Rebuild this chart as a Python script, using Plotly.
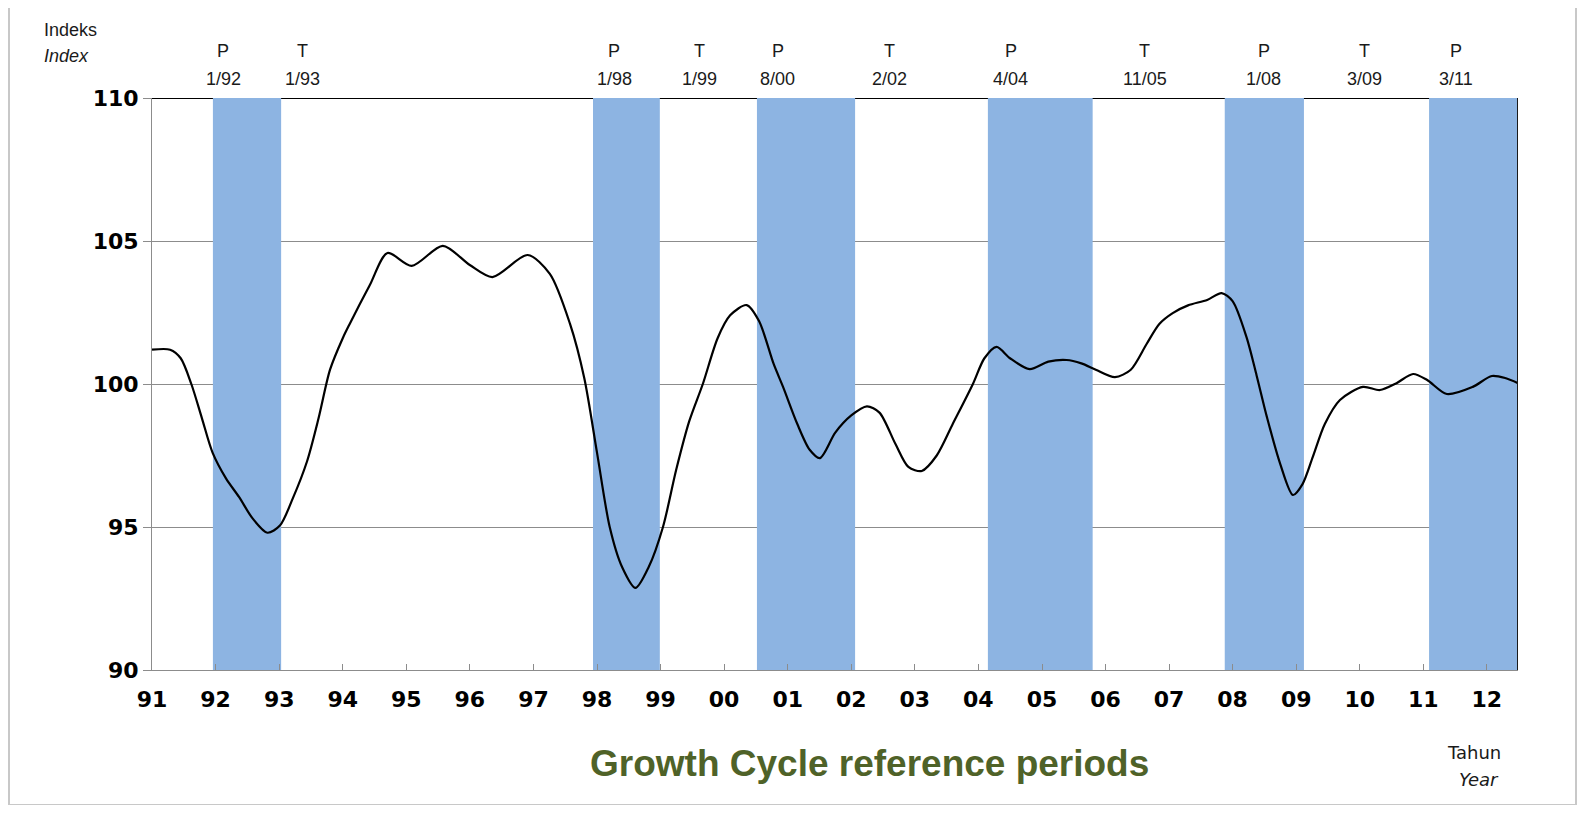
import plotly.graph_objects as go

# ---- data ----
dates = ["1991-01-01", "1991-04-15", "1991-06-15", "1991-08-15", "1991-10-15", "1991-12-15",
         "1992-03-01", "1992-05-15", "1992-08-01", "1992-10-25", "1993-01-05", "1993-03-20",
         "1993-06-10", "1993-08-15", "1993-10-20", "1994-01-01", "1994-02-10", "1994-06-05",
         "1994-09-15", "1995-02-01", "1995-07-30", "1996-01-01", "1996-05-10", "1996-11-28",
         "1997-04-05", "1997-07-30", "1997-10-20", "1998-01-01", "1998-03-15", "1998-05-25",
         "1998-08-10", "1998-10-25", "1999-01-15", "1999-04-01", "1999-06-15", "1999-09-01",
         "1999-11-25", "2000-02-05", "2000-05-10", "2000-07-20", "2000-10-12", "2000-12-05",
         "2001-02-25", "2001-05-07", "2001-07-05", "2001-10-01", "2002-01-01", "2002-04-01",
         "2002-06-12", "2002-09-12", "2002-11-25", "2003-02-10", "2003-05-07", "2003-08-07",
         "2003-12-01", "2004-02-05", "2004-04-15", "2004-07-01", "2004-10-22", "2005-02-06",
         "2005-05-22", "2005-08-15", "2005-11-06", "2006-02-24", "2006-05-26", "2006-08-25",
         "2006-11-06", "2007-01-22", "2007-04-20", "2007-08-08", "2007-10-30", "2008-01-01",
         "2008-03-21", "2008-05-18", "2008-07-16", "2008-10-01", "2008-12-13", "2009-02-06",
         "2009-04-06", "2009-06-14", "2009-09-09", "2010-01-19", "2010-04-27", "2010-07-31",
         "2010-11-03", "2011-01-23", "2011-05-16", "2011-10-12", "2012-01-30", "2012-04-20",
         "2012-06-28"]
index_values = [101.2, 101.2, 100.9, 100.0, 98.8, 97.6,
                96.7, 96.05, 95.3, 94.8, 95.05, 96.0,
                97.3, 98.8, 100.5, 101.6, 102.1, 103.45,
                104.58, 104.13, 104.83, 104.16, 103.74, 104.51,
                103.85, 102.1, 100.2, 97.6, 95.0, 93.6,
                92.87, 93.6, 95.0, 97.0, 98.7, 100.0,
                101.6, 102.4, 102.76, 102.2, 100.7, 99.9,
                98.6, 97.7, 97.41, 98.3, 98.9, 99.22,
                99.0, 97.9, 97.1, 96.96, 97.5, 98.6,
                100.0, 100.9, 101.3, 100.9, 100.52, 100.78,
                100.84, 100.72, 100.5, 100.24, 100.5, 101.4,
                102.1, 102.48, 102.75, 102.94, 103.18, 102.9,
                101.64, 100.3, 98.85, 97.2, 96.12, 96.5,
                97.45, 98.6, 99.44, 99.9, 99.79, 100.03,
                100.35, 100.14, 99.65, 99.9, 100.28, 100.2,
                100.03]

# peak-to-trough reference periods (shaded)
band_start = ["1991-12-17", "1997-12-09", "2000-07-08", "2004-02-25", "2007-11-17", "2011-02-03"]
band_end = ["1993-01-12", "1998-12-28", "2002-01-23", "2005-10-19", "2009-02-14", "2012-06-28"]

# turning-point labels
tp_type = ["P", "T", "P", "T", "P", "T", "P", "T", "P", "T", "P"]
tp_date = ["1/92", "1/93", "1/98", "1/99", "8/00", "2/02", "4/04", "11/05", "1/08", "3/09", "3/11"]
tp_label_x = ["1992-02-15", "1993-05-15", "1998-04-10", "1999-08-15", "2000-11-05", "2002-08-08",
              "2004-07-05", "2006-08-15", "2008-06-28", "2010-01-30", "2011-07-05"]

year_ticks = [f"{y}-01-01" for y in range(1991, 2013)]
year_labels = ["91", "92", "93", "94", "95", "96", "97", "98", "99", "00", "01",
               "02", "03", "04", "05", "06", "07", "08", "09", "10", "11", "12"]
y_ticks = [90, 95, 100, 105, 110]

x_start = "1991-01-01"
x_end = "2012-06-28"

# ---- layout geometry (page pixels; the page body adds an 8px margin) ----
OFF = 8
W, H = 1585 - 2 * OFF, 813 - 2 * OFF
L, R, T, B = 152, 1518, 98, 670   # plot area in page pixels


def px(xp):
    return (xp - L) / (R - L)


def py(yp):
    return (B - yp) / (B - T)


BAND = "#8DB4E2"
GRID = "#8C8C8C"

fig = go.Figure()
fig.add_trace(go.Scatter(x=dates, y=index_values, mode="lines",
                         line=dict(color="black", width=2.2, shape="spline", smoothing=0.8),
                         hoverinfo="skip", showlegend=False))

shapes = []
# top border line at 110 (covered by bands)
shapes.append(dict(type="line", xref="x", yref="y", x0=x_start, x1=x_end, y0=110, y1=110,
                   line=dict(color="black", width=2), layer="between"))
for s, e in zip(band_start, band_end):
    shapes.append(dict(type="rect", xref="x", yref="y", x0=s, x1=e, y0=90, y1=110,
                       fillcolor=BAND, line=dict(width=0), layer="between"))
# right border
shapes.append(dict(type="line", xref="x", yref="y", x0=x_end, x1=x_end, y0=90, y1=110,
                   line=dict(color="#1a1a1a", width=2), layer="above"))
# outer frame
shapes.append(dict(type="rect", xref="paper", yref="paper",
                   x0=px(9), x1=px(1576), y0=py(805), y1=py(6),
                   line=dict(color="#C8C8C8", width=2), fillcolor="rgba(0,0,0,0)", layer="below"))

annotations = []
lab_font = dict(family="Liberation Sans, Arial, sans-serif", size=18, color="#1a1a1a")
for t, d, xl in zip(tp_type, tp_date, tp_label_x):
    annotations.append(dict(x=xl, xref="x", y=py(51), yref="paper", text=t, showarrow=False,
                            xanchor="center", yanchor="middle", font=lab_font))
    annotations.append(dict(x=xl, xref="x", y=py(79), yref="paper", text=d, showarrow=False,
                            xanchor="center", yanchor="middle", font=lab_font))

unit_font = dict(family="DejaVu Sans, Verdana, sans-serif", size=18, color="#1a1a1a")
annotations += [
    dict(x=px(42), y=py(30), xref="paper", yref="paper", text="Indeks", showarrow=False,
         xanchor="left", yanchor="middle", font=lab_font),
    dict(x=px(42), y=py(56), xref="paper", yref="paper", text="<i>Index</i>", showarrow=False,
         xanchor="left", yanchor="middle", font=lab_font),
    dict(x=px(1474), y=py(753), xref="paper", yref="paper", text="Tahun", showarrow=False,
         xanchor="center", yanchor="middle", font=unit_font),
    dict(x=px(1479), y=py(779), xref="paper", yref="paper", text="<i>Year</i>", showarrow=False,
         xanchor="center", yanchor="middle", font=unit_font),
    dict(x=px(869), y=py(763), xref="paper", yref="paper",
         text="<b>Growth Cycle reference periods</b>", showarrow=False,
         xanchor="center", yanchor="middle",
         font=dict(family="Liberation Sans, Arial, sans-serif", size=37, color="#4F6228")),
]

tick_font = dict(family="DejaVu Sans, Verdana, sans-serif", size=22, color="black", weight="bold")

fig.update_layout(
    width=W, height=H,
    margin=dict(l=L - OFF, r=W - (R - OFF), t=T - OFF, b=H - (B - OFF), pad=0),
    paper_bgcolor="white", plot_bgcolor="white",
    shapes=shapes, annotations=annotations, showlegend=False,
    xaxis=dict(type="date", range=[x_start, x_end], tickmode="array",
               tickvals=year_ticks, ticktext=year_labels, ticks="inside", ticklen=6,
               tickcolor=GRID, tickwidth=1, showgrid=False, showline=True,
               linecolor=GRID, linewidth=1, tickfont=tick_font, ticklabelstandoff=10,
               zeroline=False, fixedrange=True),
    yaxis=dict(range=[90, 110], tickmode="array", tickvals=y_ticks,
               ticktext=[str(v) for v in y_ticks], ticks="outside", ticklen=8,
               tickcolor=GRID, tickwidth=1, showgrid=True, gridcolor=GRID, gridwidth=1,
               showline=True, linecolor=GRID, linewidth=1, tickfont=tick_font,
               zeroline=False, fixedrange=True),
)

fig.write_html("out.html")
